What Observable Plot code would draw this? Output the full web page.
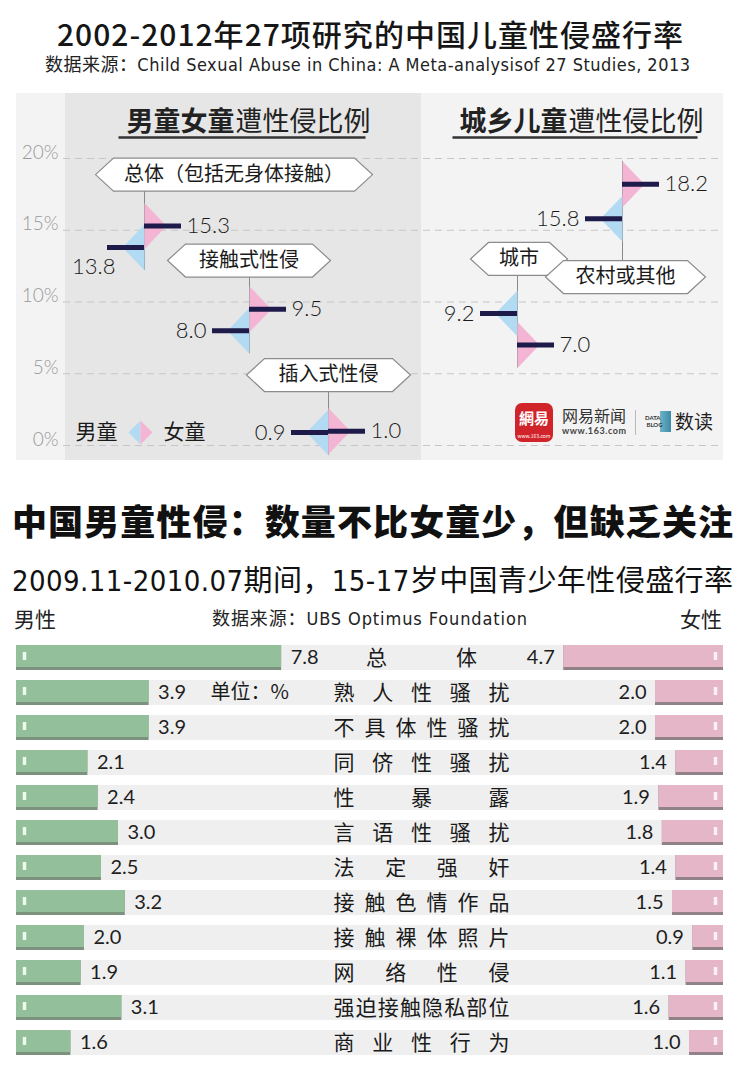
<!DOCTYPE html>
<html><head><meta charset="utf-8">
<script src="https://cdn.jsdelivr.net/npm/d3@7"></script>
<script src="https://cdn.jsdelivr.net/npm/@observablehq/plot@0.6"></script>
<style>
html,body{margin:0;padding:0;background:#fff}
#page{position:relative;width:748px;height:1071px;overflow:hidden;font-family:"Noto Sans CJK SC",sans-serif;color:#161616}
.abs{position:absolute;white-space:nowrap}
svg{display:block}
</style></head>
<body><div id="page"></div>
<script>
// ---------------- data ----------------
const groups = ["总体（包括无身体接触）", "接触式性侵", "插入式性侵", "城市", "农村或其他"];
const boys  = [13.8, 8.0, 0.9, 9.2, 15.8];
const girls = [15.3, 9.5, 1.0, 7.0, 18.2];
const yTicks = [0, 5, 10, 15, 20];

const rows = ["总体", "熟人性骚扰", "不具体性骚扰", "同侪性骚扰", "性暴露", "言语性骚扰",
  "法定强奸", "接触色情作品", "接触裸体照片", "网络性侵", "强迫接触隐私部位", "商业性行为"];
const male   = [7.8, 3.9, 3.9, 2.1, 2.4, 3.0, 2.5, 3.2, 2.0, 1.9, 3.1, 1.6];
const female = [4.7, 2.0, 2.0, 1.4, 1.9, 1.8, 1.4, 1.5, 0.9, 1.1, 1.6, 1.0];

// ---------------- layout / style ----------------
const CJK = '"Noto Sans CJK SC", sans-serif';
const NUM = 'Lato, "Noto Sans CJK SC", sans-serif';
const NARROW = '"Liberation Sans Narrow", "DejaVu Sans Condensed", "Noto Sans CJK SC", sans-serif';
const PINK = "#f3b5d3", BLUE = "#b3daf3", NAVY = "#1e1b4b";
const L = {
  stemX: [144, 249, 328, 517, 622],
  boxX: [233.5, 248.5, 328, 518.5, 625],
  boxY: [18.88, 12.89, 4.91, 13.0, 11.74],
  boxW: [277, 163, 164, 97, 160],
  boyBelow: [true, false, false, false, false]
};
const page = document.getElementById("page");

function label(txt, o) {
  const d = document.createElement("div");
  d.className = "abs";
  d.textContent = txt;
  Object.assign(d.style, {
    fontSize: o.size + "px", fontWeight: o.weight || 400, fontFamily: o.family || CJK,
    color: o.color || "#161616", lineHeight: o.size + "px", top: (o.cy - 0.56 * o.size) + "px", left: "0px"
  });
  if (o.stretch) d.style.fontStretch = o.stretch;
  page.appendChild(d);
  let w = d.getBoundingClientRect().width;
  if (o.width) {
    const n = [...txt].length;
    const ls = (o.width - w) / (n - 1);
    d.style.letterSpacing = ls + "px";
    w = o.width;
  }
  const left = o.anchor === "start" ? o.x : o.anchor === "end" ? o.x - w : o.x - w / 2;
  d.style.left = left + "px";
  return d;
}

// custom symbols
const halfDiamond = (side, w, h) => ({draw(ctx) { ctx.moveTo(0, -h); ctx.lineTo(side * w, 0); ctx.lineTo(0, h); ctx.closePath(); }});
const hexBox = (w, h, k) => ({draw(ctx) {
  const a = w / 2, b = h / 2;
  ctx.moveTo(-a, 0); ctx.lineTo(-a + k, -b); ctx.lineTo(a - k, -b); ctx.lineTo(a, 0);
  ctx.lineTo(a - k, b); ctx.lineTo(-a + k, b); ctx.closePath();
}});
const hline = w => ({draw(ctx) { ctx.moveTo(-w / 2, 0); ctx.lineTo(w / 2, 0); }});

// ---------------- headers ----------------
label("2002-2012年27项研究的中国儿童性侵盛行率", {x: 370, cy: 35, size: 30, weight: 500, width: 626});
label("数据来源：Child Sexual Abuse in China: A Meta-analysisof 27 Studies, 2013", {x: 367.5, cy: 66, size: 18, family: NARROW, stretch: "condensed", width: 645, color: "#222"});

// ---------------- chart 1 ----------------
const Y0 = 357, Y20 = 70;
const pxPerUnit = (Y0 - Y20) / 20;
const DW = 22, DH = 23; // half-diamond width / half-height in px
const G = groups.map((g, i) => ({g, boy: boys[i], girl: girls[i], sx: L.stemX[i], bx: L.boxX[i], by: L.boxY[i], bw: L.boxW[i], below: L.boyBelow[i]}));
const farEnd = d => {
  const lo = Math.min(d.boy, d.girl), hi = Math.max(d.boy, d.girl), h = DH / pxPerUnit;
  return d.by > hi ? lo - h : hi + h;
};
const numStyle = {fontFamily: NUM, fontSize: 22, fontWeight: 300, fill: "#1a1a1a"};
const titleStyle = {frameAnchor: "top", lineAnchor: "middle", dy: 29, fontSize: 27, fill: "#222"};
const legStyle = {frameAnchor: "bottom", lineAnchor: "middle", dy: -28, fontSize: 21, fill: "#1a1a1a"};

const chart1 = Plot.plot({
  width: 748, height: 377, marginTop: 5, marginBottom: 5, marginLeft: 0, marginRight: 0,
  x: {type: "identity", axis: null},
  y: {domain: [0, 20], range: [Y0, Y20], axis: null},
  style: {background: "transparent", fontFamily: CJK},
  marks: [
    Plot.rect([0], {x1: 16, x2: 723, fill: "#f3f3f3"}),
    Plot.rect([0], {x1: 65, x2: 421, fill: "#e6e6e6"}),
    Plot.ruleY(yTicks, {x1: 63, x2: 723, stroke: "#c6c6c6", strokeDasharray: "7,5"}),
    Plot.text(yTicks, {x: 58, y: d => d, text: d => d + "%", textAnchor: "end", dy: -6, fill: "#9a9a9a", fontSize: 19, fontFamily: NUM, fontWeight: 300}),
    // panel titles
    Plot.text(["男童女童"], {x: 234, textAnchor: "end", fontWeight: 700, ...titleStyle}),
    Plot.text(["遭性侵比例"], {x: 235, textAnchor: "start", ...titleStyle}),
    Plot.dot([0], {x: 241.5, frameAnchor: "top", dy: 44, symbol: hline(247), fill: "none", stroke: "#333", strokeWidth: 2.5}),
    Plot.text(["城乡儿童"], {x: 567, textAnchor: "end", fontWeight: 700, ...titleStyle}),
    Plot.text(["遭性侵比例"], {x: 568, textAnchor: "start", ...titleStyle}),
    Plot.dot([0], {x: 574.5, frameAnchor: "top", dy: 44, symbol: hline(245), fill: "none", stroke: "#333", strokeWidth: 2.5}),
    // stems
    Plot.ruleX(G, {x: "sx", y1: "by", y2: farEnd, stroke: "#8a8a8a", strokeWidth: 1}),
    // half diamonds
    Plot.dot(G, {x: "sx", y: "boy", symbol: halfDiamond(-1, DW, DH), fill: BLUE, stroke: "none"}),
    Plot.dot(G, {x: "sx", y: "girl", symbol: halfDiamond(1, DW, DH), fill: PINK, stroke: "none"}),
    // value bars
    Plot.ruleY(G, {y: "girl", x1: "sx", x2: d => d.sx + 37, stroke: NAVY, strokeWidth: 5}),
    Plot.ruleY(G, {y: "boy", x1: d => d.sx - 37, x2: "sx", stroke: NAVY, strokeWidth: 5}),
    Plot.text(G, {x: d => d.sx + 42, y: "girl", text: d => d.girl.toFixed(1), textAnchor: "start", ...numStyle}),
    Plot.text(G.filter(d => !d.below), {x: d => d.sx - 43, y: "boy", text: d => d.boy.toFixed(1), textAnchor: "end", ...numStyle}),
    Plot.text(G.filter(d => d.below), {x: d => d.sx - 29, y: "boy", dy: 19, text: d => d.boy.toFixed(1), textAnchor: "end", ...numStyle}),
    // label boxes
    ...G.map(d => Plot.dot([d], {x: "bx", y: "by", symbol: hexBox(d.bw, 33, 18), fill: "#fff", stroke: "#8c8c8c", strokeWidth: 1.2})),
    ...G.map(d => Plot.text([d], {x: "bx", y: "by", text: "g", fontSize: 20, fill: "#1a1a1a"})),
    // legend
    Plot.text(["男童"], {x: 96, ...legStyle}),
    Plot.dot([0], {x: 140, frameAnchor: "bottom", dy: -28, symbol: halfDiamond(-1, 12, 12), fill: BLUE, stroke: "none"}),
    Plot.dot([0], {x: 140, frameAnchor: "bottom", dy: -28, symbol: halfDiamond(1, 12, 12), fill: PINK, stroke: "none"}),
    Plot.text(["女童"], {x: 184, ...legStyle})
  ]
});
const c1 = document.createElement("div");
c1.className = "abs"; c1.style.left = "0px"; c1.style.top = "88px";
c1.appendChild(chart1);
page.appendChild(c1);

// logo (163 news / data blog)
(function logo() {
  const box = document.createElement("div");
  box.className = "abs";
  Object.assign(box.style, {left: "515px", top: "403px", width: "38px", height: "39px", background: "#d0242a", borderRadius: "7px", color: "#fff",
    fontSize: "15px", fontWeight: 700, lineHeight: "30px", textAlign: "center", fontFamily: CJK});
  box.innerHTML = '網易<div style="font-size:5px;line-height:5px;font-weight:400">www.163.com</div>';
  page.appendChild(box);
  label("网易新闻", {x: 562, cy: 416, size: 16, anchor: "start", color: "#333", width: 64});
  label("www.163.com", {x: 562, cy: 431, size: 9, anchor: "start", weight: 700, color: "#444", family: NUM, width: 64});
  const sep = document.createElement("div");
  sep.className = "abs";
  Object.assign(sep.style, {left: "635px", top: "410px", width: "1px", height: "25px", background: "#b9b9b9"});
  page.appendChild(sep);
  const db = document.createElement("div");
  db.className = "abs";
  Object.assign(db.style, {left: "643px", top: "411px", width: "28px", height: "21px", background: "linear-gradient(90deg,#f3f3f3 60%,#6fb4c9 60%,#3d8aa6)",
    fontSize: "6px", lineHeight: "7px", fontWeight: 700, color: "#333", fontFamily: NUM, paddingTop: "3px", boxSizing: "border-box", paddingLeft: "2px"});
  db.innerHTML = "DATA<br>&nbsp;BLOG";
  page.appendChild(db);
  label("数读", {x: 675, cy: 422, size: 19, anchor: "start", color: "#222"});
})();

// ---------------- section 2 headers ----------------
label("中国男童性侵：数量不比女童少，但缺乏关注", {x: 372.5, cy: 522, size: 35, weight: 900, width: 721, color: "#111"});
label("2009.11-2010.07期间，15-17岁中国青少年性侵盛行率", {x: 372.5, cy: 583, size: 29, width: 721, family: NARROW, stretch: "condensed", color: "#111"});
label("男性", {x: 14, cy: 620, size: 21, anchor: "start", color: "#222"});
label("数据来源：UBS Optimus Foundation", {x: 369.5, cy: 620, size: 18, width: 315, family: NARROW, stretch: "condensed", color: "#222"});
label("女性", {x: 722, cy: 620, size: 21, anchor: "end", color: "#222"});

// ---------------- chart 2 ----------------
const XMAX = 20.8;
const R = rows.map((r, i) => ({r, m: male[i], f: female[i]}));
const rowStyle = {fontFamily: NUM, fontSize: 20, fill: "#1e1e1e"};
const chart2 = Plot.plot({
  width: 748, height: 435, marginTop: 0, marginBottom: 0, marginLeft: 16, marginRight: 25,
  x: {domain: [0, XMAX], range: [16, 723], axis: null},
  y: {type: "band", domain: rows, range: [0, 428.4], paddingInner: 0.3, paddingOuter: 0.15, axis: null},
  style: {background: "transparent", fontFamily: CJK},
  marks: [
    Plot.barX(R, {y: "r", x1: 0, x2: XMAX, fill: "#efefef"}),
    Plot.barX(R, {y: "r", x1: 0, x2: "m", fill: "#7d917f"}),
    Plot.barX(R, {y: "r", x1: 0, x2: "m", fill: "#93bf9b", insetBottom: 3}),
    Plot.barX(R, {y: "r", x1: d => XMAX - d.f, x2: XMAX, fill: "#918288"}),
    Plot.barX(R, {y: "r", x1: d => XMAX - d.f, x2: XMAX, fill: "#e4b6c7", insetBottom: 3}),
    Plot.tickX(R, {x: 0, y: "r", dx: 8, stroke: "#ecfbea", strokeWidth: 3.5, insetTop: 7, insetBottom: 10}),
    Plot.tickX(R, {x: XMAX, y: "r", dx: -8, stroke: "#fbf0f4", strokeWidth: 3.5, insetTop: 7, insetBottom: 10}),
    Plot.text(R, {x: "m", y: "r", dx: 9, text: d => d.m.toFixed(1), textAnchor: "start", ...rowStyle}),
    Plot.text(R, {x: d => XMAX - d.f, y: "r", dx: -9, text: d => d.f.toFixed(1), textAnchor: "end", ...rowStyle}),
    Plot.text(R, {y: "r", frameAnchor: "left", dx: 405, text: "r", textAnchor: "middle", fontSize: 21, fill: "#1a1a1a"}),
    Plot.text([rows[1]], {y: d => d, frameAnchor: "left", dx: 194, text: () => "单位：%", textAnchor: "start", fontSize: 20, fill: "#1a1a1a"})
  ]
});
// justify the row category labels across the label column
chart2.querySelectorAll("text").forEach(t => {
  const s = t.textContent;
  if (rows.includes(s)) {
    t.setAttribute("textLength", s === rows[0] ? 111 : 176);
    t.setAttribute("lengthAdjust", "spacing");
  }
});
const c2 = document.createElement("div");
c2.className = "abs"; c2.style.left = "0px"; c2.style.top = "636px";
c2.appendChild(chart2);
page.appendChild(c2);
</script>
</body></html>
